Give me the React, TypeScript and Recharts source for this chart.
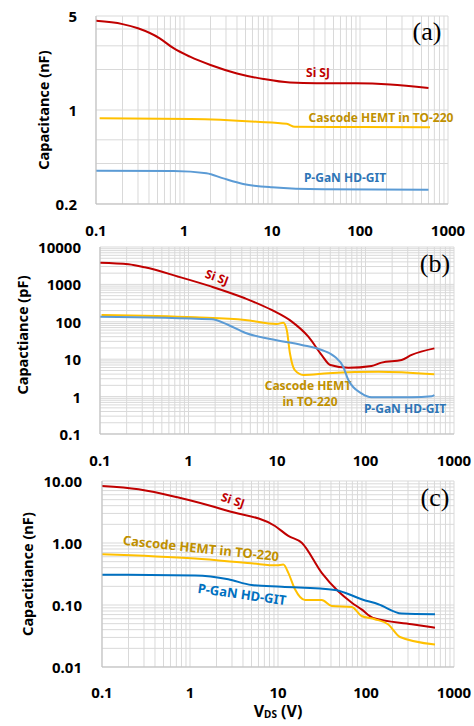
import React from 'react';
import { LineChart, Line, XAxis, YAxis, CartesianGrid } from 'recharts';

const FONT = "'Noto Sans', 'Open Sans', sans-serif";

// ---------- axis ticks ----------
const xGridTicks = [
  0.1, 0.2, 0.3, 0.4, 0.5, 0.6, 0.7, 0.8, 0.9,
  1, 2, 3, 4, 5, 6, 7, 8, 9,
  10, 20, 30, 40, 50, 60, 70, 80, 90,
  100, 200, 300, 400, 500, 600, 700, 800, 900,
  1000,
];
const xMajorTicks = [0.1, 1, 10, 100, 1000];
const xMajorLabels = ['0.1', '1', '10', '100', '1000'];

const aYGrid = [0.2, 0.4, 0.6, 1, 2, 3, 4, 5];
const aYMajor = [0.2, 1, 5];
const aYLabels = ['0.2', '1', '5'];

const bYGrid = [
  0.1, 0.2, 0.3, 0.4, 0.5, 0.6, 0.7, 0.8, 0.9,
  1, 2, 3, 4, 5, 6, 7, 8, 9,
  10, 20, 30, 40, 50, 60, 70, 80, 90,
  100, 200, 300, 400, 500, 600, 700, 800, 900,
  1000, 2000, 3000, 4000, 5000, 6000, 7000, 8000, 9000,
  10000,
];
const bYMajor = [0.1, 1, 10, 100, 1000, 10000];
const bYLabels = ['0.1', '1', '10', '100', '1000', '10000'];

const cYGrid = [
  0.01, 0.02, 0.03, 0.04, 0.05, 0.06, 0.07, 0.08, 0.09,
  0.1, 0.2, 0.3, 0.4, 0.5, 0.6, 0.7, 0.8, 0.9,
  1, 2, 3, 4, 5, 6, 7, 8, 9,
  10,
];
const cYMajor = [0.01, 0.1, 1, 10];
const cYLabels = ['0.01', '0.10', '1.00', '10.00'];

// ---------- data (V in volts, C) ----------
// Panel (a) – nF
const aSiSJ = [
  { v: 0.1, c: 4.6 }, { v: 0.2, c: 4.35 }, { v: 0.3, c: 4.05 }, { v: 0.53, c: 3.41 },
  { v: 0.76, c: 2.88 }, { v: 1.17, c: 2.49 }, { v: 2, c: 2.16 }, { v: 4, c: 1.87 },
  { v: 8, c: 1.7 }, { v: 16, c: 1.6 }, { v: 32, c: 1.58 }, { v: 90, c: 1.58 },
  { v: 220, c: 1.55 }, { v: 600, c: 1.46 },
];
const aCascode = [
  { v: 0.11, c: 0.867 }, { v: 1.2, c: 0.857 }, { v: 6.7, c: 0.818 }, { v: 14.7, c: 0.79 },
  { v: 18.2, c: 0.75 }, { v: 100, c: 0.747 }, { v: 625, c: 0.745 },
];
const aPGaN = [
  { v: 0.1, c: 0.354 }, { v: 0.76, c: 0.352 }, { v: 1.8, c: 0.339 }, { v: 2.8, c: 0.31 },
  { v: 4.7, c: 0.282 }, { v: 10, c: 0.266 }, { v: 38, c: 0.257 }, { v: 600, c: 0.255 },
];

// Panel (b) – pF
const bSiSJ = [
  { v: 0.1, c: 3800 }, { v: 0.21, c: 3440 }, { v: 0.32, c: 2860 }, { v: 0.77, c: 1610 },
  { v: 1.83, c: 870 }, { v: 4.35, c: 425 }, { v: 8.7, c: 207 }, { v: 14.7, c: 101 },
  { v: 22.6, c: 40 }, { v: 32, c: 12.9 }, { v: 40, c: 7.0 }, { v: 64, c: 5.9 },
  { v: 117, c: 6.6 }, { v: 152, c: 8.1 }, { v: 256, c: 9.5 }, { v: 332, c: 13 },
  { v: 600, c: 19.5 },
];
const bCascode = [
  { v: 0.104, c: 152 }, { v: 1.18, c: 132 }, { v: 4.35, c: 112 }, { v: 9.9, c: 87 },
  { v: 11.8, c: 95 }, { v: 12.9, c: 60 }, { v: 14, c: 14.4 }, { v: 15.9, c: 5.1 },
  { v: 19.8, c: 3.8 }, { v: 38, c: 4.2 }, { v: 140, c: 4.6 }, { v: 600, c: 3.95 },
];
const bPGaN = [
  { v: 0.1, c: 137 }, { v: 1.83, c: 117 }, { v: 2.82, c: 82 }, { v: 4.35, c: 51 },
  { v: 8.7, c: 34 }, { v: 19, c: 24 }, { v: 32, c: 17.6 }, { v: 45, c: 11.7 },
  { v: 56, c: 6.3 }, { v: 64, c: 2.78 }, { v: 90, c: 1.22 }, { v: 117, c: 0.96 },
  { v: 332, c: 0.96 }, { v: 560, c: 1.02 }, { v: 600, c: 1.09 },
];

// Panel (c) – nF
const cSiSJ = [
  { v: 0.1, c: 8.3 }, { v: 0.26, c: 7.35 }, { v: 0.74, c: 5.4 }, { v: 2.72, c: 3.28 },
  { v: 9.25, c: 1.88 }, { v: 13.1, c: 1.3 }, { v: 18.6, c: 1.01 }, { v: 31.4, c: 0.33 },
  { v: 48, c: 0.168 }, { v: 69, c: 0.109 }, { v: 89, c: 0.085 }, { v: 120, c: 0.062 },
  { v: 331, c: 0.049 }, { v: 608, c: 0.043 },
];
const cCascode = [
  { v: 0.1, c: 0.657 }, { v: 1.14, c: 0.56 }, { v: 5, c: 0.47 }, { v: 9.7, c: 0.436 },
  { v: 11.5, c: 0.45 }, { v: 13.1, c: 0.33 }, { v: 15.6, c: 0.179 }, { v: 20.3, c: 0.12 },
  { v: 31.4, c: 0.12 }, { v: 40.8, c: 0.096 }, { v: 69, c: 0.093 }, { v: 89, c: 0.0665 },
  { v: 126, c: 0.059 }, { v: 178, c: 0.049 }, { v: 243, c: 0.0305 }, { v: 608, c: 0.023 },
];
const cPGaN = [
  { v: 0.1, c: 0.308 }, { v: 1.14, c: 0.3 }, { v: 2.72, c: 0.26 }, { v: 5, c: 0.21 },
  { v: 11, c: 0.197 }, { v: 44.5, c: 0.175 }, { v: 64, c: 0.149 }, { v: 89, c: 0.124 },
  { v: 138, c: 0.103 }, { v: 254, c: 0.073 }, { v: 608, c: 0.071 },
];

// ---------- styles ----------
const RED = '#C00000';
const YELLOW = '#FFC000';
const GOLD_TEXT = '#BF9000';
const BLUE_LIGHT = '#5B9BD5';
const BLUE_DARK = '#0070C0';
const BLUE_TEXT = '#2E75B6';
const GRID = '#D9D9D9';
const AXIS = '#BFBFBF';

function findLabel(values: number[], labels: string[], v: number) {
  const i = values.findIndex((m) => Math.abs(m / v - 1) < 1e-6);
  return i >= 0 ? labels[i] : '';
}

function makeXTick(values: number[], labels: string[], dy: number) {
  return (props: any) => {
    const { x, y, payload } = props;
    const t = findLabel(values, labels, payload.value);
    if (!t) return <g />;
    return (
      <text x={x} y={y + dy} textAnchor="middle" dominantBaseline="central"
        fontFamily={FONT} fontWeight={700} fontSize={15} fill="#000">{t}</text>
    );
  };
}

function makeYTick(values: number[], labels: string[], dx: number) {
  return (props: any) => {
    const { x, y, payload } = props;
    const t = findLabel(values, labels, payload.value);
    if (!t) return <g />;
    return (
      <text x={x - dx} y={y} textAnchor="end" dominantBaseline="central"
        fontFamily={FONT} fontWeight={700} fontSize={15} fill="#000">{t}</text>
    );
  };
}

function Ann({ x, y, text, color, size = 12, rot = 0, weight = 700, family = FONT }: any) {
  return (
    <text x={x} y={y} textAnchor="middle" dominantBaseline="central"
      transform={rot ? `rotate(${rot} ${x} ${y})` : undefined}
      fontFamily={family} fontWeight={weight} fontSize={size} fill={color}>{text}</text>
  );
}

function YTitle({ x, y, text }: any) {
  return (
    <text x={x} y={y} textAnchor="middle" dominantBaseline="central"
      transform={`rotate(-90 ${x} ${y})`}
      fontFamily={FONT} fontWeight={700} fontSize={14.5} fill="#000">{text}</text>
  );
}

function PanelLabel({ x, y, text }: any) {
  return (
    <text x={x} y={y} textAnchor="middle" dominantBaseline="central"
      fontFamily="'Liberation Serif', 'DejaVu Serif', serif" fontSize={26} fill="#000">{text}</text>
  );
}

const lineCommon = {
  type: 'monotone' as const,
  dataKey: 'c',
  dot: false,
  strokeWidth: 2,
  isAnimationActive: false,
};

export default function App() {
  return (
    <div style={{ position: 'absolute', left: 0, top: 0, width: 474, height: 726, background: '#fff', overflow: 'hidden' }}>
      {/* Panel (a) */}
      <div style={{ position: 'absolute', left: 0, top: 0 }}>
        <LineChart width={474} height={245} margin={{ top: 16, right: 26, bottom: 11, left: 0 }}>
          <CartesianGrid stroke={GRID} strokeWidth={1} />
          <XAxis dataKey="v" type="number" scale="log" domain={[0.1, 1000]} allowDataOverflow
            ticks={xGridTicks} interval={0} height={30} tickSize={0} tickMargin={0} tickLine={false}
            axisLine={{ stroke: AXIS }} tick={makeXTick(xMajorTicks, xMajorLabels, 26)} />
          <YAxis type="number" scale="log" domain={[0.2, 5]} allowDataOverflow
            ticks={aYGrid} interval={0} width={96} tickSize={0} tickMargin={0} tickLine={false}
            axisLine={{ stroke: AXIS }} tick={makeYTick(aYMajor, aYLabels, 19)} />
          <Line {...lineCommon} data={aSiSJ} stroke={RED} name="Si SJ" />
          <Line {...lineCommon} data={aCascode} stroke={YELLOW} name="Cascode HEMT in TO-220" />
          <Line {...lineCommon} data={aPGaN} stroke={BLUE_LIGHT} name="P-GaN HD-GIT" />
          <YTitle x={43} y={110} text="Capacitance (nF)" />
          <Ann x={318} y={72} text="Si SJ" color={RED} />
          <Ann x={381} y={117} text="Cascode HEMT in TO-220" color={GOLD_TEXT} />
          <Ann x={345} y={177} text="P-GaN HD-GIT" color={BLUE_TEXT} />
          <PanelLabel x={427} y={31} text="(a)" />
        </LineChart>
      </div>

      {/* Panel (b) */}
      <div style={{ position: 'absolute', left: 0, top: 232 }}>
        <LineChart width={474} height={240} margin={{ top: 15, right: 20, bottom: 8, left: 0 }}>
          <CartesianGrid stroke={GRID} strokeWidth={1} />
          <XAxis dataKey="v" type="number" scale="log" domain={[0.1, 1000]} allowDataOverflow
            ticks={xGridTicks} interval={0} height={30} tickSize={0} tickMargin={0} tickLine={false}
            axisLine={{ stroke: AXIS }} tick={makeXTick(xMajorTicks, xMajorLabels, 26)} />
          <YAxis type="number" scale="log" domain={[0.1, 10000]} allowDataOverflow
            ticks={bYGrid} interval={0} width={100} tickSize={0} tickMargin={0} tickLine={false}
            axisLine={{ stroke: AXIS }} tick={makeYTick(bYMajor, bYLabels, 19)} />
          <Line {...lineCommon} data={bSiSJ} stroke={RED} name="Si SJ" />
          <Line {...lineCommon} data={bCascode} stroke={YELLOW} name="Cascode HEMT in TO-220" />
          <Line {...lineCommon} data={bPGaN} stroke={BLUE_LIGHT} name="P-GaN HD-GIT" />
          <YTitle x={22} y={103} text="Capactiance (pF)" />
          <Ann x={217} y={45} text="Si SJ" color={RED} rot={20} />
          <Ann x={308} y={153} text="Cascode HEMT" color={GOLD_TEXT} />
          <Ann x={310} y={169} text="in TO-220" color={GOLD_TEXT} />
          <Ann x={405} y={176} text="P-GaN HD-GIT" color={BLUE_TEXT} />
          <PanelLabel x={435} y={31} text="(b)" />
        </LineChart>
      </div>

      {/* Panel (c) */}
      <div style={{ position: 'absolute', left: 0, top: 466 }}>
        <LineChart width={474} height={260} margin={{ top: 15, right: 20, bottom: 9, left: 0 }}>
          <CartesianGrid stroke={GRID} strokeWidth={1} />
          <XAxis dataKey="v" type="number" scale="log" domain={[0.1, 1000]} allowDataOverflow
            ticks={xGridTicks} interval={0} height={50} tickSize={0} tickMargin={0} tickLine={false}
            axisLine={{ stroke: AXIS }} tick={makeXTick(xMajorTicks, xMajorLabels, 25)} />
          <YAxis type="number" scale="log" domain={[0.01, 10]} allowDataOverflow
            ticks={cYGrid} interval={0} width={102} tickSize={0} tickMargin={0} tickLine={false}
            axisLine={{ stroke: AXIS }} tick={makeYTick(cYMajor, cYLabels, 20)} />
          <Line {...lineCommon} data={cSiSJ} stroke={RED} name="Si SJ" />
          <Line {...lineCommon} data={cCascode} stroke={YELLOW} name="Cascode HEMT in TO-220" />
          <Line {...lineCommon} data={cPGaN} stroke={BLUE_DARK} name="P-GaN HD-GIT" />
          <YTitle x={27} y={108} text="Capacitiance (nF)" />
          <Ann x={233} y={34} text="Si SJ" color={RED} rot={18} />
          <Ann x={201} y={82} text="Cascode HEMT in TO-220" color={GOLD_TEXT} size={13} rot={6} />
          <Ann x={242} y={128} text="P-GaN HD-GIT" color={BLUE_DARK} size={13} rot={8} />
          <PanelLabel x={435} y={31} text="(c)" />
          <text x={278} y={245} textAnchor="middle" dominantBaseline="central"
            fontFamily={FONT} fontWeight={700} fontSize={16} fill="#000">
            V<tspan fontSize={10} dy={3}>DS</tspan><tspan dy={-3}> (V)</tspan>
          </text>
        </LineChart>
      </div>
    </div>
  );
}
